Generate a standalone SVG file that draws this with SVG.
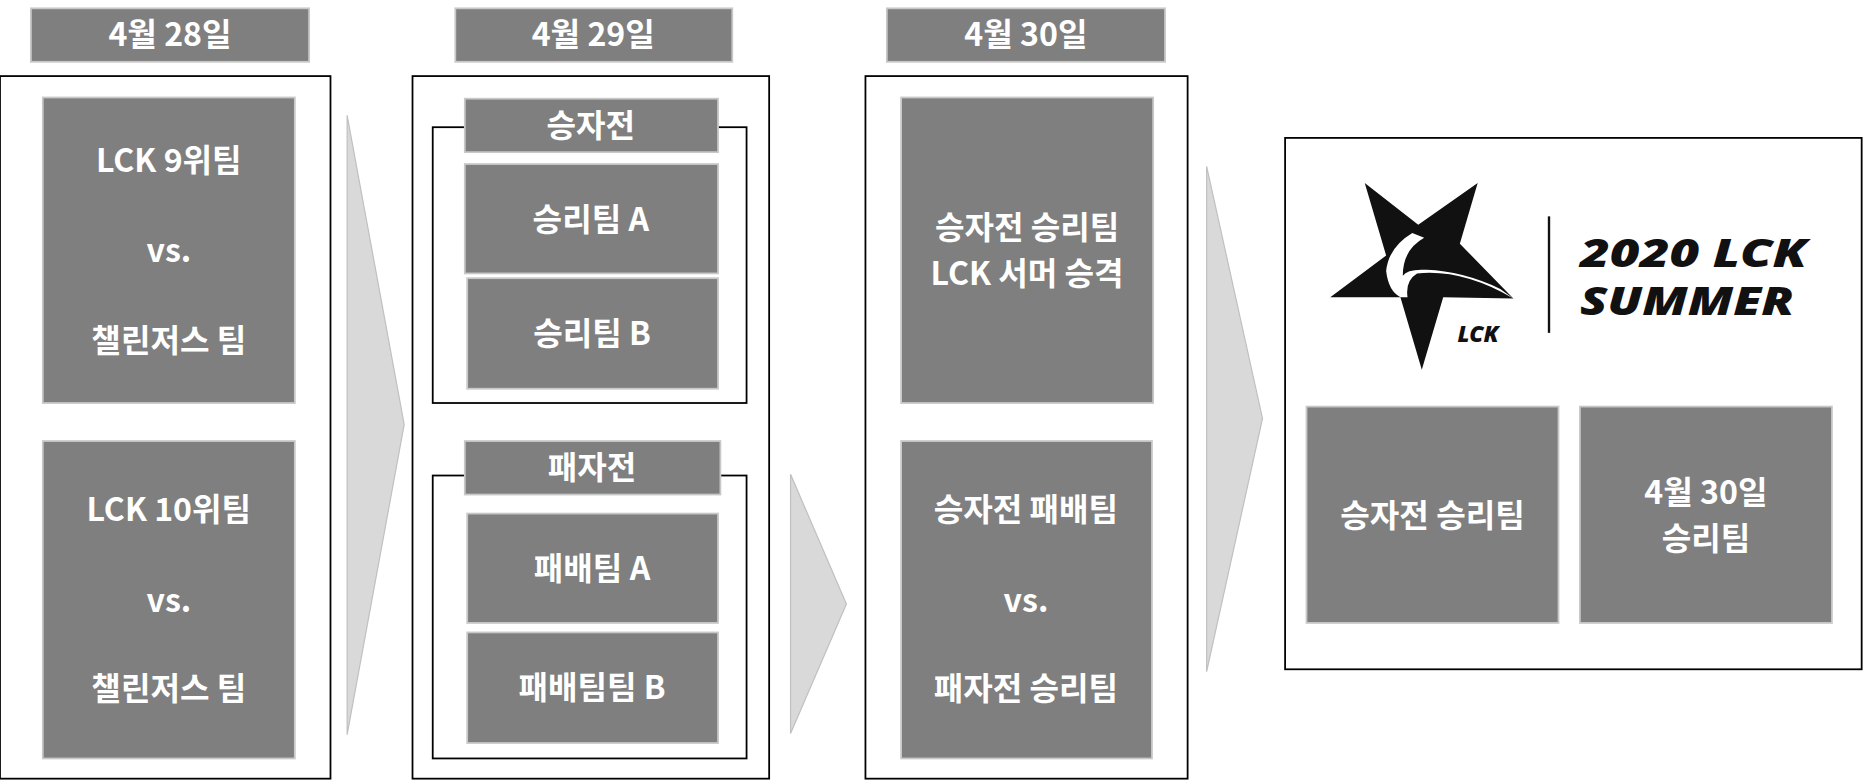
<svg xmlns="http://www.w3.org/2000/svg" width="1864" height="781" viewBox="0 0 1864 781">
<style>
.g{fill:#7f7f7f;stroke:#c8c8c8;stroke-width:1.5}
.o{fill:#fff;stroke:#000;stroke-width:1.5}
.b{fill:none;stroke:#000;stroke-width:1.5}
.a{fill:#d9d9d9;stroke:#c0c0c0;stroke-width:1}
.t{font-family:"Noto Sans CJK KR","Noto Sans",sans-serif;font-weight:700;font-size:27px;fill:#fff;text-anchor:middle}
.l{font-family:"Open Sans","Noto Sans",sans-serif;font-weight:800;font-style:italic;fill:#111}
</style>
<rect width="1864" height="781" fill="#fff"/>
<g transform="scale(1.1888)">
<g id="connectors">
<polygon class="a" points="292,97 340,357 292,618"/>
<polygon class="a" points="665,399 712,508 665,617"/>
<polygon class="a" points="1015,140 1062,352 1015,565"/>
</g>
<g id="col1">
<rect class="g" x="26" y="7" width="234" height="45"/><text class="t" x="143" y="39">4월 28일</text>
<rect class="o" x="0" y="64" width="278" height="591"/>
<g id="m1"><rect class="g" x="36" y="82" width="212" height="257"/>
<text class="t" x="142" y="145">LCK 9위팀</text><text class="t" x="142" y="220">vs.</text><text class="t" x="142" y="296">챌린저스 팀</text></g>
<g id="m2"><rect class="g" x="36" y="371" width="212" height="267"/>
<text class="t" x="142" y="438">LCK 10위팀</text><text class="t" x="142" y="515">vs.</text><text class="t" x="142" y="589">챌린저스 팀</text></g>
</g>
<g id="col2">
<rect class="g" x="383" y="7" width="233" height="45"/><text class="t" x="499" y="39">4월 29일</text>
<rect class="o" x="347" y="64" width="300" height="591"/>
<rect class="b" x="364" y="107" width="264" height="232"/>
<g id="winners"><rect class="g" x="391" y="83" width="213" height="45"/><text class="t" x="497" y="115">승자전</text></g>
<g id="wa"><rect class="g" x="391" y="138" width="213" height="92"/><text class="t" x="497" y="194">승리팀 A</text></g>
<g id="wb"><rect class="g" x="393" y="234" width="211" height="93"/><text class="t" x="498" y="290">승리팀 B</text></g>
<rect class="b" x="364" y="400" width="264" height="238"/>
<g id="losers"><rect class="g" x="391" y="371" width="215" height="45"/><text class="t" x="498" y="403">패자전</text></g>
<g id="la"><rect class="g" x="393" y="432" width="211" height="92"/><text class="t" x="498" y="488">패배팀 A</text></g>
<g id="lb"><rect class="g" x="393" y="532" width="211" height="93"/><text class="t" x="498" y="588">패배팀팀 B</text></g>
</g>
<g id="col3">
<rect class="g" x="746" y="7" width="234" height="45"/><text class="t" x="863" y="39">4월 30일</text>
<rect class="o" x="728" y="64" width="271" height="591"/>
<g id="p1"><rect class="g" x="758" y="82" width="212" height="257"/>
<text class="t" x="864" y="201">승자전 승리팀</text><text class="t" x="864" y="240">LCK 서머 승격</text></g>
<g id="p2"><rect class="g" x="758" y="371" width="211" height="267"/>
<text class="t" x="863" y="438">승자전 패배팀</text><text class="t" x="863" y="515">vs.</text><text class="t" x="863" y="589">패자전 승리팀</text></g>
</g>
<g id="summer">
<rect class="o" x="1081" y="116" width="485" height="447"/>
<polygon fill="#111" points="1148,154 1193,189 1243,154 1228,205 1273,251 1214,250 1196,311 1178,250 1119,250 1166,215"/>
<path fill="#fff" d="M1188,196 Q1168,208 1166,228 Q1168,245 1178,250 L1184,250 Q1182,236 1192,230 Q1230,226 1273,251 L1262,243 Q1230,228 1200,227 Q1184,226 1180,232 Q1180,210 1198,200 Z"/>
<text class="l" x="1226" y="288" font-size="19">LCK</text>
<line x1="1303" y1="182" x2="1303" y2="280" stroke="#111" stroke-width="2"/>
<text class="l" x="1329" y="225" font-size="33" textLength="191" lengthAdjust="spacingAndGlyphs">2020 LCK</text>
<text class="l" x="1329" y="265" font-size="33" textLength="180" lengthAdjust="spacingAndGlyphs">SUMMER</text>
<g id="f1"><rect class="g" x="1099" y="342" width="212" height="182"/><text class="t" x="1205" y="443">승자전 승리팀</text></g>
<g id="f2"><rect class="g" x="1329" y="342" width="212" height="182"/><text class="t" x="1435" y="424">4월 30일</text><text class="t" x="1435" y="463">승리팀</text></g>
</g>
</g>
</svg>
